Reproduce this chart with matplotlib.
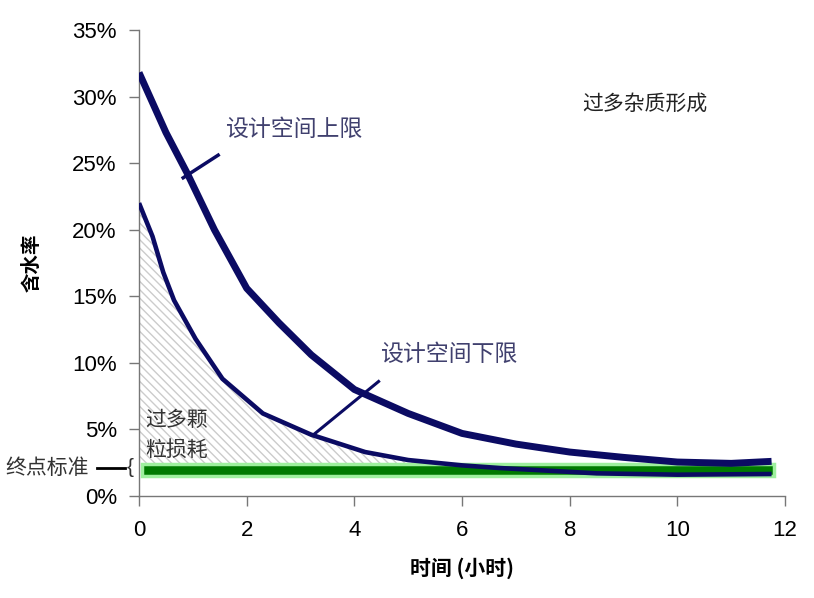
import matplotlib.pyplot as plt
from matplotlib.patches import Rectangle
import numpy as np

plt.rcParams['font.family'] = ['Liberation Sans', 'Noto Sans CJK SC', 'DejaVu Sans']
plt.rcParams['hatch.color'] = '#cccccc'
plt.rcParams['hatch.linewidth'] = 1.0

# valores (tempo em horas, teor de água em %)
t_sup = [0.0, 0.5, 0.9, 1.4, 2.0, 2.6, 3.2, 4.0, 5.0, 6.0, 7.0, 8.0, 9.0, 10.0, 11.0, 11.75]
y_sup = [31.8, 27.3, 24.2, 20.0, 15.6, 13.0, 10.6, 8.0, 6.2, 4.7, 3.9, 3.3, 2.9, 2.55, 2.45, 2.6]

t_inf = [0.0, 0.25, 0.45, 0.65, 1.05, 1.55, 2.3, 3.2, 4.2, 5.0, 6.0, 6.7, 8.5, 10.0, 11.75]
y_inf = [22.0, 19.5, 16.8, 14.7, 11.8, 8.8, 6.2, 4.6, 3.3, 2.7, 2.3, 2.1, 1.7, 1.6, 1.65]

# faixa do critério de ponto final
faixa_ini, faixa_fim = 0.05, 11.8
faixa_min, faixa_max = 1.5, 2.4

yticks = [0, 5, 10, 15, 20, 25, 30, 35]
xticks = [0, 2, 4, 6, 8, 10, 12]

cor_linha = '#0b0b63'
cor_texto = '#40406e'
cjk = ['Noto Sans CJK SC', 'DejaVu Sans']

fig = plt.figure(figsize=(8.14, 5.98), dpi=100)
ax = fig.add_axes([0.1708, 0.1706, 0.7936, 0.7792])

# area hachurada (perda excessiva de particulas)
t_arr = np.array(t_inf)
y_arr = np.array(y_inf)
ax.fill_between(t_arr, y_arr, faixa_max, where=y_arr >= faixa_max, interpolate=True,
                facecolor='none', edgecolor='#cccccc', hatch='\\\\\\\\', linewidth=0)

ax.add_patch(Rectangle((faixa_ini, faixa_min), faixa_fim - faixa_ini, faixa_max - faixa_min,
                       facecolor='#007a00', edgecolor='#9ef09e', linewidth=2.5, zorder=3))

ax.plot(t_sup, y_sup, color=cor_linha, lw=5, solid_capstyle='butt',
        solid_joinstyle='round', zorder=4)
ax.plot(t_inf, y_inf, color=cor_linha, lw=3.3, solid_capstyle='butt',
        solid_joinstyle='round', zorder=4)

# linhas de chamada
ax.plot([0.82, 1.47], [23.9, 25.6], color=cor_linha, lw=2.5, zorder=4)
ax.plot([3.24, 4.45], [4.6, 8.6], color=cor_linha, lw=2.2, zorder=4)

ax.text(1.6, 27.5, '设计空间上限', color=cor_texto, fontsize=16.5, family=cjk, va='center')
ax.text(4.48, 10.6, '设计空间下限', color=cor_texto, fontsize=16.5, family=cjk, va='center')
ax.text(8.23, 29.5, '过多杂质形成', color='#222222', fontsize=15, family=cjk, va='center')
ax.text(0.11, 5.7, '过多颗', color='#333333', fontsize=15, family=cjk, va='center')
ax.text(0.11, 3.5, '粒损耗', color='#333333', fontsize=15, family=cjk, va='center')

fig.text(0.006, 0.2174, '终点标准', color='#333333', fontsize=15, family=cjk, va='center')
fig.add_artist(plt.Line2D([0.119, 0.154], [0.2174, 0.2174], color='black', lw=2))
fig.text(0.156, 0.2174, '{', color='#333333', fontsize=15, va='center', ha='left')

ax.set_xlim(0, 12)
ax.set_ylim(0, 35)
ax.set_xticks(xticks)
ax.set_yticks(yticks)
ax.set_xticklabels([str(v) for v in xticks], fontsize=16)
ax.set_yticklabels([f'{v}%' for v in yticks], fontsize=16)
ax.tick_params(axis='both', direction='out', length=7, color='#777777', width=1)
ax.tick_params(axis='x', pad=10)
ax.tick_params(axis='y', pad=9)

for lado in ['top', 'right']:
    ax.spines[lado].set_visible(False)
for lado in ['left', 'bottom']:
    ax.spines[lado].set_color('#777777')
    ax.spines[lado].set_linewidth(1)

ax.set_xlabel('时间 (小时)', fontsize=15, fontweight='bold', family=cjk, labelpad=12)
ax.set_ylabel('含水率', fontsize=14, fontweight='bold', family=cjk, labelpad=22)

fig.savefig('out.png', dpi=100)
